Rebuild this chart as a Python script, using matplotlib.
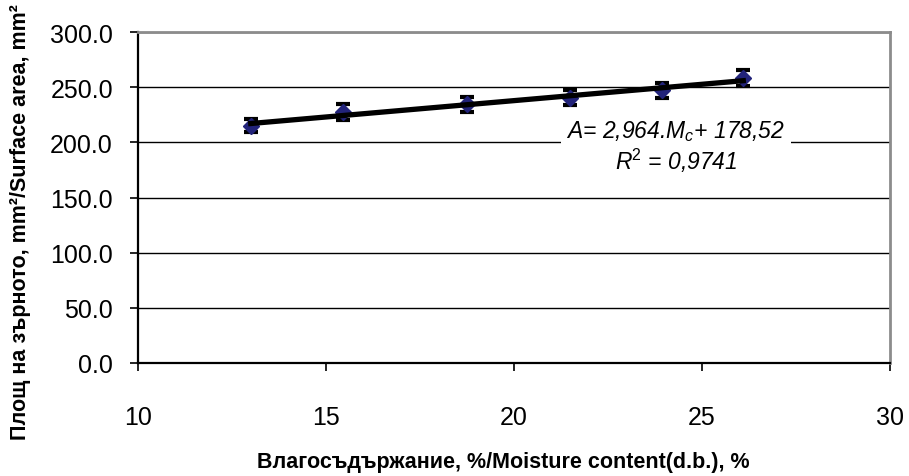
import numpy as np
import matplotlib
matplotlib.use("Agg")
from matplotlib import pyplot as plt

# moisture content (d.b.), % and surface area, mm2
moisture = [13.0, 15.45, 18.75, 21.5, 23.95, 26.1]
area = [215.0, 227.5, 234.5, 240.5, 247.0, 258.5]
area_err = [6.0, 7.0, 7.0, 7.0, 7.0, 7.5]

# trend line coefficients
slope = 2.964
intercept = 178.52

x_ticks = [10, 15, 20, 25, 30]
y_ticks = [0, 50, 100, 150, 200, 250, 300]

plt.rcParams['font.family'] = ['Liberation Sans', 'DejaVu Sans']
plt.rcParams['mathtext.fontset'] = 'custom'
plt.rcParams['mathtext.it'] = 'Liberation Sans:italic'
plt.rcParams['mathtext.rm'] = 'Liberation Sans'

fig = plt.figure(figsize=(9.09, 4.77), dpi=100)
ax = fig.add_axes([0.1518, 0.2369, 0.8272, 0.6939])

for y in y_ticks[1:]:
    ax.axhline(y, color='black', lw=1.0, zorder=1)

ax.errorbar(moisture, area, yerr=area_err, fmt='none', ecolor='black',
            elinewidth=2.0, capsize=5.0, capthick=3.0, zorder=3)
ax.plot(moisture, area, 'D', color='#22237a', markersize=8, zorder=4)

xfit = np.array([moisture[0], moisture[-1]])
ax.plot(xfit, slope * xfit + intercept, color='black', lw=3.8, zorder=5)

ax.text(24.31, 196.7, "A= 2,964.M$_c$+ 178,52\nR$^2$ = 0,9741",
        fontsize=16.5, style='italic', ha='center', va='center',
        linespacing=1.1,
        bbox=dict(facecolor='white', edgecolor='none', pad=4), zorder=6)

ax.set_xlim(10, 30)
ax.set_ylim(0, 300)
ax.set_xticks(x_ticks)
ax.set_yticks(y_ticks)
ax.set_yticklabels([f"{v:.1f}" for v in y_ticks])
ax.tick_params(axis='both', labelsize=18, length=6, width=1.2, direction='out')
ax.tick_params(axis='x', pad=24)
ax.tick_params(axis='y', pad=12)

for side in ['left', 'bottom']:
    ax.spines[side].set_color('black')
    ax.spines[side].set_linewidth(1.6)
for side in ['top', 'right']:
    ax.spines[side].set_color('#8c8c8c')
    ax.spines[side].set_linewidth(2.0)

ax.set_xlabel("Влагосъдържание, %/Moisture content(d.b.), %",
              fontsize=15.5, fontweight='bold')
ax.xaxis.set_label_coords(0.486, -0.266)
ax.set_ylabel("Площ на зърното, mm²/Surface area, mm²",
              fontsize=15.5, fontweight='bold')
ax.yaxis.set_label_coords(-0.142, 0.429)

fig.savefig("out.png", dpi=100)
